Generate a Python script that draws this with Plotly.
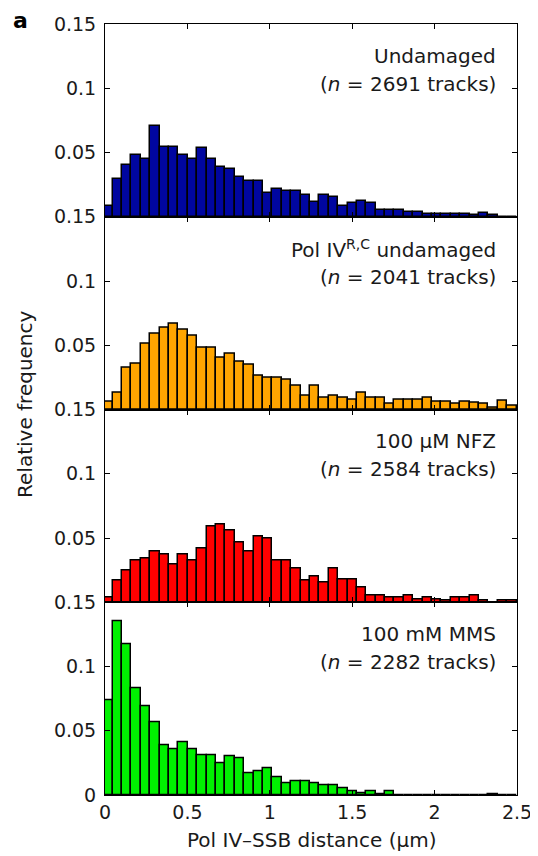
import plotly.graph_objects as go
from plotly.subplots import make_subplots

# ---- data ----
bin_start = 0.018
bin_width = 0.057
n_bins = 44
bin_centers = [round(bin_start + i * bin_width, 4) for i in range(n_bins)]

undamaged = [0.0087, 0.0292, 0.0403, 0.0484, 0.045, 0.0705, 0.0545, 0.0545, 0.0484, 0.045,
             0.0534, 0.045, 0.0389, 0.0371, 0.031, 0.0276, 0.0276, 0.0182, 0.0218, 0.0197,
             0.0197, 0.0171, 0.0118, 0.0168, 0.0153, 0.0087, 0.0105, 0.0121, 0.0105, 0.0053,
             0.0053, 0.0053, 0.0037, 0.0037, 0.0024, 0.0024, 0.0024, 0.0024, 0.0024, 0.0013,
             0.0029, 0.0013, 0.0, 0.0]
pol_iv_rc = [0.006, 0.0127, 0.0326, 0.0358, 0.0513, 0.0591, 0.064, 0.0666, 0.0617, 0.0573,
             0.0479, 0.0479, 0.0402, 0.0435, 0.037, 0.0345, 0.0264, 0.0246, 0.0246, 0.0228,
             0.0181, 0.0104, 0.0181, 0.0088, 0.0104, 0.0088, 0.0073, 0.0127, 0.0088, 0.0088,
             0.0041, 0.0073, 0.0073, 0.0073, 0.0093, 0.006, 0.006, 0.0041, 0.006, 0.0052,
             0.0041, 0.001, 0.0065, 0.0031]
nfz = [0.0039, 0.0167, 0.0245, 0.0323, 0.0339, 0.0398, 0.037, 0.0292, 0.037, 0.0323,
       0.0417, 0.0586, 0.0604, 0.0555, 0.0464, 0.0398, 0.051, 0.0497, 0.0323, 0.0323,
       0.026, 0.0167, 0.0198, 0.0151, 0.026, 0.018, 0.018, 0.0117, 0.0055, 0.0055,
       0.0039, 0.0039, 0.0055, 0.0023, 0.0039, 0.0023, 0.0013, 0.0039, 0.0039, 0.0055,
       0.0013, 0.0, 0.0013, 0.0013]
mms = [0.074, 0.1349, 0.1177, 0.0831, 0.069, 0.0568, 0.0388, 0.0359, 0.0409, 0.0359,
       0.031, 0.031, 0.0247, 0.0299, 0.0286, 0.0169, 0.0188, 0.0206, 0.0141, 0.0089,
       0.0109, 0.0109, 0.0089, 0.0076, 0.0076, 0.0052, 0.0026, 0.0016, 0.0031, 0.0005,
       0.0031, 0.0, 0.0, 0.0, 0.0, 0.0, 0.0, 0.0, 0.0, 0.0,
       0.0, 0.0005, 0.0, 0.0]

series = [undamaged, pol_iv_rc, nfz, mms]
colors = ["#0006a0", "#ffa500", "#ff0000", "#00f000"]
titles = ["Undamaged", "Pol IV<sup>R,C</sup> undamaged", "100 µM NFZ", "100 mM MMS"]
counts = ["2691", "2041", "2584", "2282"]

x_ticks = [0, 0.5, 1, 1.5, 2, 2.5]
x_ticktext = ["0", "0.5", "1", "1.5", "2", "2.5"]

FONT = "DejaVu Sans"
TXT = "#1a1a1a"

fig = make_subplots(rows=4, cols=1, shared_xaxes=True, vertical_spacing=0)

for i, (vals, col) in enumerate(zip(series, colors)):
    r = i + 1
    fig.add_trace(go.Bar(x=bin_centers, y=vals, width=bin_width,
                         marker=dict(color=col, line=dict(color="black", width=1.5)),
                         showlegend=False), row=r, col=1)
    if r < 4:
        yt, ytt = [0.05, 0.1, 0.15], ["0.05", "0.1", "0.15"]
    else:
        yt, ytt = [0, 0.05, 0.1, 0.15], ["0", "0.05", "0.1", "0.15"]
    fig.update_yaxes(range=[0, 0.15], tickvals=yt, ticktext=ytt, ticks="inside", ticklen=5,
                     tickcolor="black", showline=True, linecolor="black", linewidth=1,
                     mirror="ticks", showgrid=False, zeroline=False, automargin=False,
                     tickfont=dict(family=FONT, size=19, color=TXT), ticklabelstandoff=4,
                     row=r, col=1)
    fig.update_xaxes(range=[0, 2.5], tickvals=x_ticks, ticktext=x_ticktext, ticks="inside",
                     ticklen=5, tickcolor="black", showline=True, linecolor="black",
                     linewidth=1, mirror="ticks", showgrid=False, zeroline=False,
                     showticklabels=(r == 4), automargin=False,
                     tickfont=dict(family=FONT, size=19, color=TXT),
                     row=r, col=1)
    xd = "x domain" if r == 1 else f"x{r} domain"
    yd = "y domain" if r == 1 else f"y{r} domain"
    fig.add_annotation(text=titles[i], xref=xd, yref=yd, x=0.953, y=0.835,
                       xanchor="right", yanchor="middle", showarrow=False,
                       font=dict(family=FONT, size=20, color=TXT))
    fig.add_annotation(text=f"(<i>n</i> = {counts[i]} tracks)", xref=xd, yref=yd,
                       x=0.953, y=0.69, xanchor="right", yanchor="middle", showarrow=False,
                       font=dict(family=FONT, size=20, color=TXT))

fig.add_annotation(text="Relative frequency", xref="paper", yref="paper", x=-0.194, y=0.506,
                   textangle=-90, showarrow=False, xanchor="center", yanchor="middle",
                   font=dict(family=FONT, size=20, color=TXT))
fig.add_annotation(text="Pol IV–SSB distance (µm)", xref="paper", yref="paper", x=0.5,
                   y=-0.058, showarrow=False, xanchor="center", yanchor="middle",
                   font=dict(family=FONT, size=20, color=TXT))
fig.add_annotation(text="<b>a</b>", xref="paper", yref="paper", x=-0.205, y=1.004,
                   showarrow=False, xanchor="center", yanchor="middle",
                   font=dict(family=FONT, size=22, color="black"))

fig.update_layout(width=530, height=848, margin=dict(l=97, r=21, t=16, b=61),
                  plot_bgcolor="white", paper_bgcolor="white", bargap=0)

fig.write_html("out.html")
